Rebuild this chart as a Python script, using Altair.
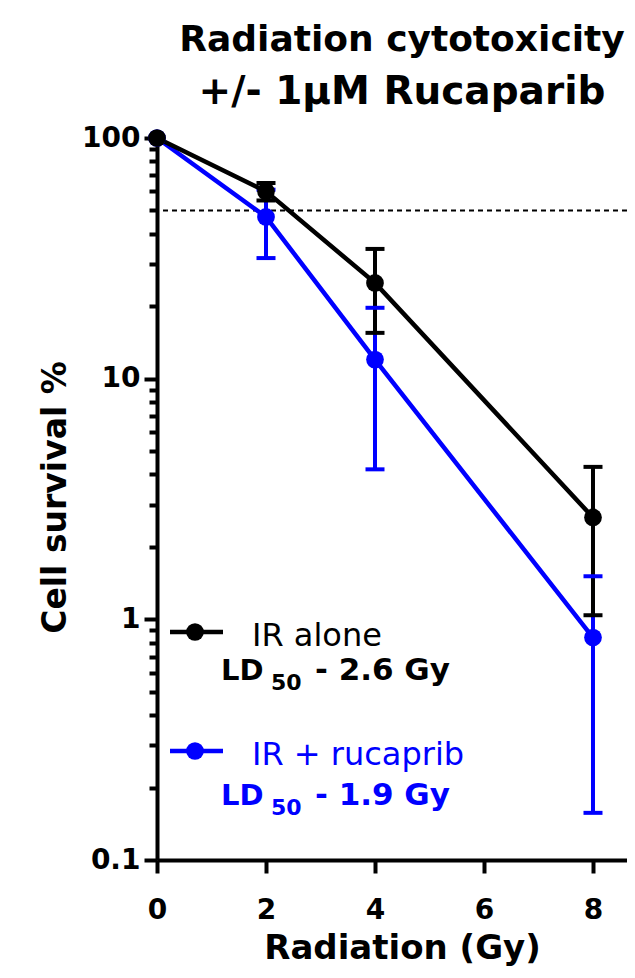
import altair as alt
import pandas as pd

# ---- data ----
dose = [0, 2, 4, 8]
series_names = ["IR + rucaprib", "IR alone"]
series_colors = ["#0000ff", "#000000"]

ir_alone = [100, 60, 25, 2.65]
ir_alone_lo = [None, 55, 15.5, 1.04]
ir_alone_hi = [None, 65, 34.6, 4.3]

ir_ruca = [100, 47, 12, 0.84]
ir_ruca_lo = [None, 31.7, 4.2, 0.157]
ir_ruca_hi = [None, 61, 19.7, 1.51]

ld50_texts = ["- 1.9 Gy", "- 2.6 Gy"]
threshold = [50]

x_ticks = [0, 2, 4, 6, 8]
y_decades = [0.1, 1, 10, 100]
y_minor = [m * d for d in [0.1, 1, 10] for m in range(2, 10)]

rows = []
for name, vals, lo, hi in [
    ("IR + rucaprib", ir_ruca, ir_ruca_lo, ir_ruca_hi),
    ("IR alone", ir_alone, ir_alone_lo, ir_alone_hi),
]:
    for d, v, l, h in zip(dose, vals, lo, hi):
        rows.append({"series": name, "dose": d, "value": v, "lo": l, "hi": h})
df = pd.DataFrame(rows)
err = df.dropna()
caps = pd.concat([
    err[["series", "dose"]].assign(cap=err["lo"]),
    err[["series", "dose"]].assign(cap=err["hi"]),
])

FONT = "DejaVu Sans"
PLOT_W = 470
PLOT_H = 722

xscale = alt.Scale(domain=[0, 8.624], nice=False, zero=False)
yscale = alt.Scale(type="log", domain=[0.1, 100], nice=False)
color = alt.Color("series:N", scale=alt.Scale(domain=series_names, range=series_colors), legend=None)

decade_test = "abs(log(datum.value)/LN10 - round(log(datum.value)/LN10)) < 1e-6"

x_axis = alt.Axis(
    values=x_ticks, grid=False, domainWidth=4, domainColor="black",
    tickWidth=4, tickSize=13, tickColor="black",
    labelFont=FONT, labelFontWeight="bold", labelFontSize=28, labelColor="black",
    labelPadding=23, labelFlush=False,
    title="Radiation (Gy)", titleFont=FONT, titleFontWeight="bold", titleFontSize=34,
    titleColor="black", titleX=245, titleY=98, titleBaseline="alphabetic", titleAlign="center",
)
y_axis = alt.Axis(
    values=y_decades + y_minor, grid=False, domainWidth=4, domainColor="black",
    tickWidth=4, tickColor="black",
    tickSize={"condition": {"test": decade_test, "value": 13}, "value": 8},
    labelExpr=f"({decade_test}) ? format(datum.value, '~g') : ''",
    labelFont=FONT, labelFontWeight="bold", labelFontSize=28, labelColor="black",
    labelPadding=4, labelBaseline="middle", labelFlush=False,
    title="Cell survival %", titleFont=FONT, titleFontWeight="bold", titleFontSize=33,
    titleColor="black", titleX=-92, titleY=359, titleAngle=270,
    titleBaseline="alphabetic", titleAlign="center",
)


def xenc(field):
    return alt.X(f"{field}:Q", scale=xscale, axis=x_axis)


def yenc(field):
    return alt.Y(f"{field}:Q", scale=yscale, axis=y_axis)


thr = alt.Chart(pd.DataFrame({"t": threshold})).mark_rule(
    color="black", strokeWidth=2, strokeDash=[5, 4]
).encode(y=yenc("t"))

bars = alt.Chart(err).mark_rule(strokeWidth=4).encode(
    x=xenc("dose"), y=yenc("lo"), y2="hi:Q", color=color
)
capmarks = alt.Chart(caps).mark_tick(orient="horizontal", thickness=4, size=19, opacity=1).encode(
    x=xenc("dose"), y=yenc("cap"), color=color
)
lines = alt.Chart(df).mark_line(strokeWidth=4.5).encode(x=xenc("dose"), y=yenc("value"), color=color)
points = alt.Chart(df).mark_circle(size=314, opacity=1).encode(
    x=xenc("dose"), y=yenc("value"), color=color
)

one = pd.DataFrame({"k": [0]})
legend_layers = []
# legend layout (pixels inside the plot area): symbol row, name baseline, LD50 baseline
legend_pos = {"IR alone": (494, 508, 542), "IR + rucaprib": (613, 627, 667)}
for name, col, ld in zip(series_names, series_colors, ld50_texts):
    ly, ty, ldy = legend_pos[name]
    base = alt.Chart(one)
    legend_layers += [
        base.mark_rule(color=col, strokeWidth=4.5).encode(
            x=alt.value(13), x2=alt.value(66), y=alt.value(ly)),
        base.mark_circle(color=col, size=314, opacity=1).encode(
            x=alt.value(38), y=alt.value(ly)),
        base.mark_text(align="left", baseline="alphabetic", font=FONT, fontSize=32,
                       color=col, text=name).encode(x=alt.value(95), y=alt.value(ty)),
        base.mark_text(align="left", baseline="alphabetic", font=FONT, fontSize=29,
                       fontWeight="bold", color=col, text="LD").encode(
            x=alt.value(64), y=alt.value(ldy)),
        base.mark_text(align="left", baseline="alphabetic", font=FONT, fontSize=22,
                       fontWeight="bold", color=col, text="50").encode(
            x=alt.value(114), y=alt.value(ldy + 10)),
        base.mark_text(align="left", baseline="alphabetic", font=FONT, fontSize=31,
                       fontWeight="bold", color=col, text=ld).encode(
            x=alt.value(158), y=alt.value(ldy)),
    ]

chart = alt.layer(thr, bars, capmarks, lines, points, *legend_layers).properties(
    width=PLOT_W, height=PLOT_H,
    background="white",
    title=alt.TitleParams(
        "Radiation cytotoxicity",
        subtitle="+/- 1µM Rucaparib",
        font=FONT, fontSize=36, fontWeight="bold", color="black",
        subtitleFont=FONT, subtitleFontSize=39, subtitleFontWeight="bold",
        subtitleColor="black", subtitlePadding=14,
        anchor="middle", frame="group", dx=10, offset=11,
    ),
    autosize=alt.AutoSizeParams(type="none"),
    padding={"left": 149, "top": 130, "right": 0, "bottom": 106},
).configure_view(stroke=None).configure_axis(grid=False)

chart.save("out.html", embed_options={"renderer": "svg", "actions": False})
